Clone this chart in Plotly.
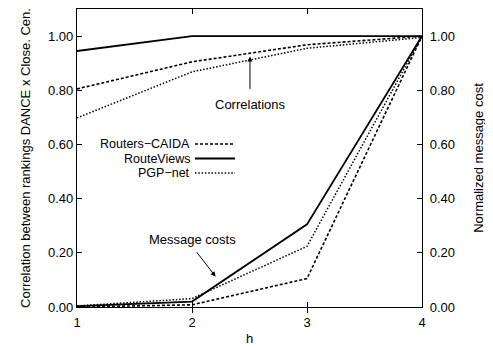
import plotly.graph_objects as go

h = [1, 2, 3, 4]
series_names = ["Routers\u2212CAIDA", "RouteViews", "PGP\u2212net"]
corr_caida = [0.805, 0.905, 0.968, 1.0]
corr_routeviews = [0.945, 1.0, 1.0, 1.0]
corr_pgp = [0.698, 0.868, 0.955, 0.995]
cost_caida = [0.0, 0.008, 0.105, 1.0]
cost_routeviews = [0.003, 0.02, 0.305, 1.0]
cost_pgp = [0.004, 0.031, 0.224, 1.0]
y_ticks = [0, 0.2, 0.4, 0.6, 0.8, 1.0]
y_ticktext = ["0.00", "0.20", "0.40", "0.60", "0.80", "1.00"]

styles = {
    "caida": dict(color="black", width=1.6, dash="3px,2px"),
    "rv": dict(color="black", width=1.8, dash="solid"),
    "pgp": dict(color="black", width=1.5, dash="1.5px,1.8px"),
}

fig = go.Figure()
for ys, st in [(corr_caida, "caida"), (corr_routeviews, "rv"), (corr_pgp, "pgp")]:
    fig.add_trace(go.Scatter(x=h, y=ys, mode="lines", line=styles[st], showlegend=False, yaxis="y"))
for ys, st in [(cost_caida, "caida"), (cost_routeviews, "rv"), (cost_pgp, "pgp")]:
    fig.add_trace(go.Scatter(x=h, y=ys, mode="lines", line=styles[st], showlegend=False, yaxis="y2"))

font = dict(family="Liberation Sans, Arial, sans-serif", size=13, color="black")
legend_font = dict(family="Liberation Sans, Arial, sans-serif", size=12.5, color="black")

# manual gnuplot-style legend (text right-aligned, sample to the right)
L, T, W, H = 77, 9, 345, 298
def px(x):
    return (x - L) / W
def py(y):
    return (T + H - y) / H
rows = [144, 158.5, 173]
for name, st, yy in zip(series_names, ["caida", "rv", "pgp"], rows):
    fig.add_annotation(xref="paper", yref="paper", x=px(191), y=py(yy), text=name,
                       showarrow=False, xanchor="right", yanchor="middle", font=legend_font,
                       borderpad=0)
    fig.add_shape(type="line", xref="paper", yref="paper", x0=px(195), x1=px(235),
                  y0=py(yy), y1=py(yy), line=styles[st])

# annotations
fig.add_annotation(x=2.504, y=0.925, xref="x", yref="y", ax=0, ay=34, text="",
                   showarrow=True, arrowhead=2, arrowsize=1, arrowwidth=1, arrowcolor="black")
fig.add_annotation(xref="paper", yref="paper", x=px(250), y=py(104), text="Correlations",
                   showarrow=False, font=font, yanchor="middle")
fig.add_annotation(x=2.205, y=0.112, xref="x", yref="y", ax=-20, ay=-26, text="",
                   showarrow=True, arrowhead=2, arrowsize=1, arrowwidth=1, arrowcolor="black")
fig.add_annotation(xref="paper", yref="paper", x=px(192), y=py(239), text="Message costs",
                   showarrow=False, font=font, yanchor="middle")

fig.update_layout(
    width=493, height=347,
    margin=dict(l=69, r=79, t=1, b=48),
    plot_bgcolor="white", paper_bgcolor="white",
    font=font,
    xaxis=dict(range=[1, 4], tickvals=h, ticktext=[str(v) for v in h],
               showline=True, linecolor="black", linewidth=1.2, mirror="allticks",
               ticks="inside", ticklen=5, tickcolor="black", showgrid=False, zeroline=False,
               ticklabelstandoff=3,
               title=dict(text="h", font=font, standoff=5)),
    yaxis=dict(range=[0, 1.1], tickvals=y_ticks, ticktext=y_ticktext,
               showline=True, linecolor="black", linewidth=1.2,
               ticks="inside", ticklen=5, tickcolor="black", showgrid=False, zeroline=False,
               title=dict(text="Correlation between rankings DANCE x Close. Cen.", font=font, standoff=14)),
    yaxis2=dict(range=[0, 1.1], tickvals=y_ticks, ticktext=y_ticktext, overlaying="y", side="right",
                showline=True, linecolor="black", linewidth=1.2,
                ticks="inside", ticklen=5, tickcolor="black", showgrid=False, zeroline=False,
                ticklabelstandoff=4,
                title=dict(text="Normalized message cost", font=font, standoff=19)),
)

fig.write_html("out.html")
